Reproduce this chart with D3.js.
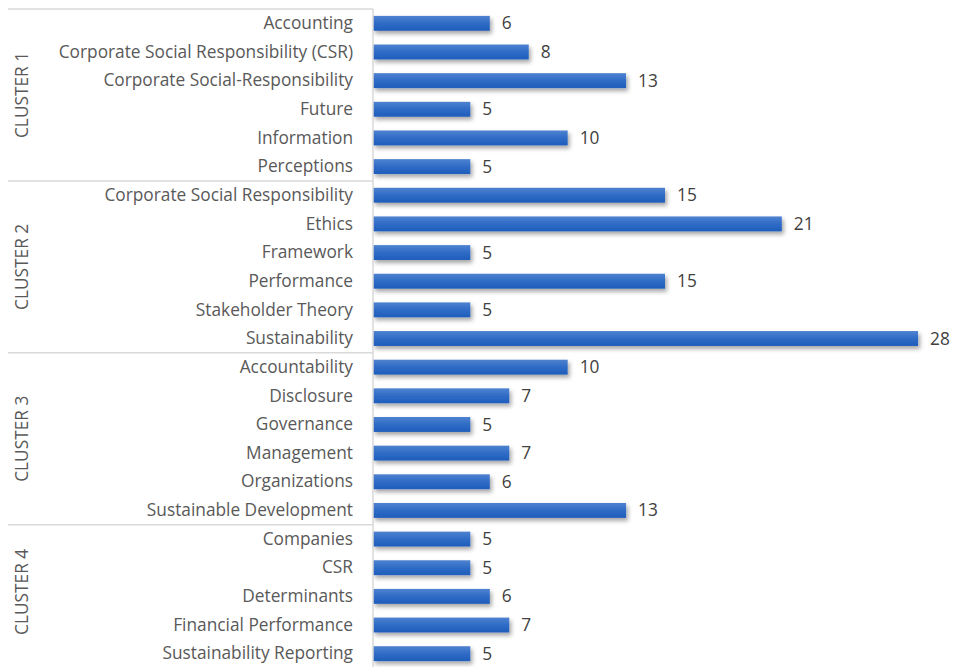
<!DOCTYPE html>
<html><head><meta charset="utf-8">
<script src="https://cdn.jsdelivr.net/npm/d3@7"></script>
<style>body{margin:0;background:#fff}</style>
</head><body><svg id="c" width="958" height="667"></svg>
<script>
const clusters = ["CLUSTER 1","CLUSTER 2","CLUSTER 3","CLUSTER 4"];
const categories = [
 ["Accounting","Corporate Social Responsibility (CSR)","Corporate Social-Responsibility","Future","Information","Perceptions"],
 ["Corporate Social Responsibility","Ethics","Framework","Performance","Stakeholder Theory","Sustainability"],
 ["Accountability","Disclosure","Governance","Management","Organizations","Sustainable Development"],
 ["Companies","CSR","Determinants","Financial Performance","Sustainability Reporting"]
];
const values = [
 [6,8,13,5,10,5],
 [15,21,5,15,5,28],
 [10,7,5,7,6,13],
 [5,5,6,7,5]
];
const rows = [];
categories.forEach((cs,ci)=>cs.forEach((c,i)=>rows.push({cluster:ci,name:c,value:values[ci][i],key:ci+"|"+c})));

const svg = d3.select("#c");
const plotTop=9, plotBottom=668, axisX=373;
const FS=17.3;
const x = d3.scaleLinear().domain([0,30]).range([axisX,957]);
const y = d3.scaleBand().domain(rows.map(r=>r.key)).range([plotTop,plotBottom]).paddingInner(0.48).paddingOuter(0.24);
const step = y.step();

const defs = svg.append("defs");
const g = defs.append("linearGradient").attr("id","bg").attr("x1",0).attr("y1",0).attr("x2",0).attr("y2",1);
g.append("stop").attr("offset","0%").attr("stop-color","#4f82d0");
g.append("stop").attr("offset","50%").attr("stop-color","#2f6cc6");
g.append("stop").attr("offset","100%").attr("stop-color","#1f5dbb");
const f = defs.append("filter").attr("id","sh").attr("x","-5%").attr("y","-30%").attr("width","115%").attr("height","190%");
f.append("feDropShadow").attr("dx",2).attr("dy",3).attr("stdDeviation",2).attr("flood-color","#000").attr("flood-opacity",0.35);

// bars
svg.append("g").selectAll("rect").data(rows).join("rect")
 .attr("x",x(0)).attr("y",d=>y(d.key)).attr("width",d=>x(d.value)-x(0)).attr("height",y.bandwidth())
 .attr("fill","url(#bg)").attr("filter","url(#sh)");

// value labels
svg.append("g").selectAll("text").data(rows).join("text")
 .attr("x",d=>x(d.value)+12).attr("y",d=>y(d.key)+y.bandwidth()/2).attr("dy","0.35em")
 .attr("font-family","Open Sans, sans-serif").attr("font-size",FS).attr("fill","#404040")
 .text(d=>d.value);

// category labels
svg.append("g").selectAll("text").data(rows).join("text")
 .attr("x",axisX-20).attr("y",d=>y(d.key)+y.bandwidth()/2).attr("dy","0.33em")
 .attr("text-anchor","end").attr("font-family","Open Sans, sans-serif").attr("font-size",FS).attr("fill","#595959")
 .text(d=>d.name);

// axis line and group separators
const lineC="#d9d9d9";
svg.append("line").attr("x1",axisX).attr("x2",axisX).attr("y1",plotTop).attr("y2",667).attr("stroke",lineC).attr("stroke-width",1.5);
let start=0;
const bounds=[];
categories.forEach((cs,ci)=>{
  const y0 = plotTop + start*step;
  const y1 = plotTop + (start+cs.length)*step;
  bounds.push([y0,y1]);
  start+=cs.length;
});
svg.append("g").selectAll("line").data(bounds).join("line")
 .attr("x1",8).attr("x2",axisX).attr("y1",d=>d[0]).attr("y2",d=>d[0]).attr("stroke",lineC).attr("stroke-width",1.5);
svg.append("g").selectAll("text").data(bounds).join("text")
 .attr("transform",(d,i)=>`translate(28,${(d[0]+Math.min(d[1],667))/2 + (i==3?-4:0)}) rotate(-90)`)
 .attr("text-anchor","middle").attr("font-family","Open Sans, sans-serif").attr("font-size",FS).attr("fill","#595959")
 .text((d,i)=>clusters[i]);
</script></body></html>
